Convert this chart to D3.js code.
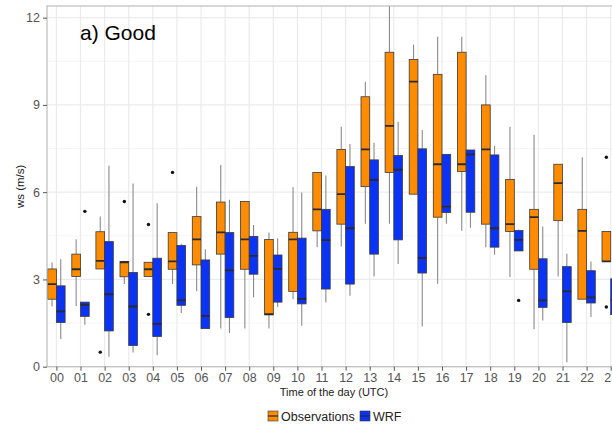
<!DOCTYPE html>
<html>
<head>
<meta charset="utf-8">
<script src="https://cdn.jsdelivr.net/npm/d3@7"></script>
<style>
  html, body { margin: 0; padding: 0; background: #fff; }
  svg { display: block; font-family: "Liberation Sans", Arial, sans-serif; }
</style>
</head>
<body>
<svg id="chart" width="612" height="428"></svg>
<script>
// ---- data ----
const hours = ["00","01","02","03","04","05","06","07","08","09","10","11","12","13","14","15","16","17","18","19","20","21","22","23"];
const series = ["Observations", "WRF"];
const yTicks = [0, 3, 6, 9, 12];

const obsLow  = [2.07,2.09,3.36,2.84,3.10,2.84,2.59,1.31,1.31,1.31,2.32,4.11,4.13,4.91,4.91,5.93,2.85,4.67,4.11,3.08,1.29,3.10,2.32,3.62];
const obsQ1   = [2.32,3.10,3.36,3.09,3.10,3.35,3.50,3.87,3.35,1.78,2.59,4.67,4.90,6.19,6.68,5.93,5.14,6.71,4.90,4.65,3.35,5.02,2.32,3.62];
const obsMed  = [2.84,3.35,3.64,3.59,3.35,3.62,4.38,4.62,4.38,1.81,4.38,5.41,5.93,7.47,8.28,9.80,6.96,6.96,7.47,4.90,5.14,6.31,4.67,3.62];
const obsQ3   = [3.36,3.87,4.64,3.62,3.59,4.61,5.16,5.66,5.68,4.37,4.62,6.68,7.47,9.28,10.81,10.56,10.05,10.81,9.00,6.44,5.41,6.96,5.41,4.65];
const obsHigh = [3.58,4.38,5.16,3.62,3.59,4.61,6.19,6.93,5.68,4.61,6.17,6.68,8.25,9.80,12.8,11.08,11.34,11.34,10.02,8.25,7.97,6.96,7.20,4.65];
const obsOutliers = [["02",0.50],["03",5.68],["04",4.89],["04",1.80],["05",6.68],["23",7.20],["23",2.05]];

const wrfLow  = [0.95,1.44,0.34,0.49,0.39,1.85,1.31,1.16,2.39,2.05,1.41,2.21,2.44,3.10,3.53,1.38,4.91,4.78,3.85,3.98,1.59,0.15,1.71,1.50];
const wrfQ1   = [1.52,1.73,1.23,0.73,1.04,2.11,1.31,1.69,3.18,2.22,2.16,2.67,2.84,3.87,4.36,3.22,5.30,5.31,4.11,3.98,2.04,1.52,2.19,1.79];
const wrfMed  = [1.90,2.13,2.49,2.07,1.47,2.28,1.75,3.31,3.81,3.36,2.33,4.35,4.76,6.42,6.77,3.73,5.50,7.30,4.76,4.36,2.28,2.59,2.38,2.30];
const wrfQ3   = [2.78,2.22,4.30,3.24,3.73,4.17,3.67,4.61,4.48,3.84,4.42,5.41,6.88,7.11,7.26,7.49,7.30,7.45,7.28,4.68,3.71,3.44,3.30,3.02];
const wrfHigh = [3.69,2.22,6.91,6.30,5.62,4.23,4.04,5.74,4.87,4.42,5.99,6.57,7.66,7.70,8.42,8.14,7.30,7.45,7.59,4.72,4.82,3.88,3.62,3.30];
const wrfOutliers = [["01",5.34],["19",2.28]];

const colors = { "Observations": "#ff8c00", "WRF": "#0b33f5" };

// ---- layout ----
const W = 612, H = 428;
const panel = { left: 47, top: 6, right: 660, bottom: 366.7 };

const svg = d3.select("#chart");

const y = d3.scaleLinear().domain([0, 12.4]).range([panel.bottom, panel.top]);
const x = d3.scalePoint().domain(hours).range([56.4, 56.4 + 23 * 24.1]);
const xs = d3.scaleBand().domain(series).range([-8.7, 8.7]).padding(0);

// background
svg.append("rect").attr("x", 0).attr("y", 0).attr("width", W).attr("height", H).attr("fill", "#fff");

svg.append("defs").append("clipPath").attr("id", "pclip")
  .append("rect").attr("x", panel.left).attr("y", panel.top)
  .attr("width", panel.right - panel.left).attr("height", panel.bottom - panel.top);

const grid = svg.append("g");
// minor y grid
const minorY = d3.range(1.5, 12.4, 3);
grid.selectAll(".ymin").data(minorY).join("line")
  .attr("x1", panel.left).attr("x2", panel.right)
  .attr("y1", d => y(d)).attr("y2", d => y(d))
  .attr("stroke", "#f2f2f2").attr("stroke-width", 0.8);
// major y grid
grid.selectAll(".ymaj").data(yTicks).join("line")
  .attr("x1", panel.left).attr("x2", panel.right)
  .attr("y1", d => y(d)).attr("y2", d => y(d))
  .attr("stroke", "#ebebeb").attr("stroke-width", 1.2);
// major x grid
grid.selectAll(".xmaj").data(hours).join("line")
  .attr("x1", d => x(d)).attr("x2", d => x(d))
  .attr("y1", panel.top).attr("y2", panel.bottom)
  .attr("stroke", "#ebebeb").attr("stroke-width", 1.2);

// ---- boxes ----
const plot = svg.append("g").attr("clip-path", "url(#pclip)");

function buildRows(name, lo, q1, med, q3, hi) {
  return hours.map((h, i) => ({ h, s: name, lo: lo[i], q1: q1[i], med: med[i], q3: q3[i], hi: hi[i] }));
}
const rows = buildRows("Observations", obsLow, obsQ1, obsMed, obsQ3, obsHigh)
  .concat(buildRows("WRF", wrfLow, wrfQ1, wrfMed, wrfQ3, wrfHigh));

const bw = xs.bandwidth();
const g = plot.selectAll(".box").data(rows).join("g")
  .attr("transform", d => `translate(${x(d.h) + xs(d.s)},0)`);

g.append("line").attr("x1", bw / 2).attr("x2", bw / 2)
  .attr("y1", d => y(d.hi)).attr("y2", d => y(d.q3))
  .attr("stroke", "#8a8a8a").attr("stroke-width", 1.1);
g.append("line").attr("x1", bw / 2).attr("x2", bw / 2)
  .attr("y1", d => y(d.q1)).attr("y2", d => y(d.lo))
  .attr("stroke", "#8a8a8a").attr("stroke-width", 1.1);
g.append("rect").attr("x", 0).attr("width", bw)
  .attr("y", d => y(d.q3)).attr("height", d => Math.max(0.5, y(d.q1) - y(d.q3)))
  .attr("fill", d => colors[d.s]).attr("stroke", "#3a3a3a").attr("stroke-width", 0.8);
g.append("line").attr("x1", 0).attr("x2", bw)
  .attr("y1", d => y(d.med)).attr("y2", d => y(d.med))
  .attr("stroke", "#2a2a2a").attr("stroke-width", 1.8);

const outl = obsOutliers.map(([h, v]) => ({ h, v, s: "Observations" }))
  .concat(wrfOutliers.map(([h, v]) => ({ h, v, s: "WRF" })));
plot.selectAll(".out").data(outl).join("circle")
  .attr("cx", d => x(d.h) + xs(d.s) + bw / 2)
  .attr("cy", d => y(d.v)).attr("r", 1.7).attr("fill", "#111");

// panel border
svg.append("rect").attr("x", panel.left).attr("y", panel.top)
  .attr("width", panel.right - panel.left).attr("height", panel.bottom - panel.top)
  .attr("fill", "none").attr("stroke", "#bdbdbd").attr("stroke-width", 1.2);

// ---- axes ----
const yAxis = d3.axisLeft(y).tickValues(yTicks).tickSize(4).tickPadding(3).tickFormat(d3.format("d"));
const ya = svg.append("g").attr("transform", `translate(${panel.left},0)`).call(yAxis);
ya.select(".domain").remove();
ya.selectAll("line").attr("stroke", "#555");
ya.selectAll("text").attr("fill", "#555").attr("font-size", 12.5)
  .attr("font-family", "Liberation Sans, Arial, sans-serif");

const xAxis = d3.axisBottom(x).tickSize(4).tickPadding(2);
const xa = svg.append("g").attr("transform", `translate(0,${panel.bottom})`).call(xAxis);
xa.select(".domain").remove();
xa.selectAll("line").attr("stroke", "#555");
xa.selectAll("text").attr("fill", "#555").attr("font-size", 12.5)
  .attr("font-family", "Liberation Sans, Arial, sans-serif");

// axis titles
svg.append("text").attr("x", 334).attr("y", 396).attr("text-anchor", "middle")
  .attr("font-size", 11).attr("fill", "#222").text("Time of the day (UTC)");
svg.append("text").attr("transform", `translate(24,${(panel.top + panel.bottom) / 2}) rotate(-90)`)
  .attr("text-anchor", "middle").attr("font-size", 11.5).attr("fill", "#222").text("ws (m/s)");

// title
svg.append("text").attr("x", 80).attr("y", 40).attr("font-size", 21).attr("fill", "#000").text("a) Good");

// ---- legend ----
const legend = svg.append("g").attr("transform", "translate(268,411)");
const legItems = [{ s: "Observations", x: 0 }, { s: "WRF", x: 92 }];
const li = legend.selectAll("g").data(legItems).join("g").attr("transform", d => `translate(${d.x},0)`);
li.append("rect").attr("x", 0).attr("y", 0).attr("width", 10).attr("height", 10)
  .attr("fill", d => colors[d.s]).attr("stroke", "#3a3a3a").attr("stroke-width", 0.6);
li.append("line").attr("x1", 0).attr("x2", 10).attr("y1", 5).attr("y2", 5)
  .attr("stroke", "#2a2a2a").attr("stroke-width", 1.2);
li.append("text").attr("x", 13).attr("y", 9.5).attr("font-size", 12.5).attr("fill", "#222").text(d => d.s);
</script>
</body>
</html>
